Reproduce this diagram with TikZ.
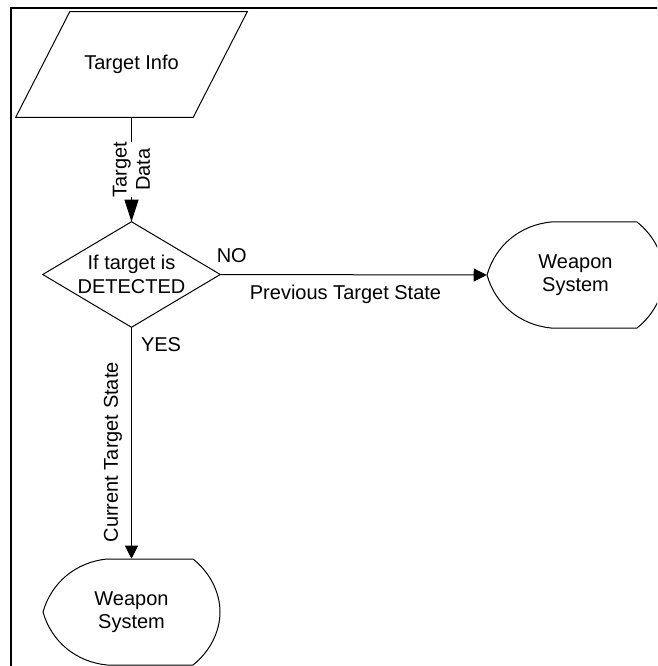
\documentclass[tikz,border=0pt]{standalone}
\usepackage{fontspec}
\setmainfont{Liberation Sans}
\usetikzlibrary{arrows.meta}
\begin{document}
\begin{tikzpicture}[x=0.75pt,y=-0.75pt,
  txt/.style={font=\fontsize{15}{17.5}\selectfont, align=center},
  holder/.style={txt, inner sep=0pt, draw=none},
  outline/.style={line width=0.75pt},
  flow/.style={line width=0.75pt, -{Triangle[length=9.75pt,width=9.75pt]}},
  longtip/.style={-{Triangle[length=16.5pt,width=10.5pt]}},
]
\useasboundingbox (0,0) rectangle (657,666);
\clip (0,0) rectangle (657,666);
% page frame
\draw[line width=1.7pt] (11.2,7.8) rectangle (700,700);

% shape holders (text + anchors)
\node[holder, minimum width=173.25pt, minimum height=78.75pt] (info) at (131.5,64.5) {Target Info};
\node[holder, minimum width=132.75pt, minimum height=78.75pt] (cond) at (131.5,274.5) {If target is\\DETECTED};
\node[holder, minimum width=132.75pt, minimum height=79.5pt] (ws2) at (575.5,275) {Weapon\\System};
\node[holder, minimum width=132.75pt, minimum height=79.5pt] (ws1) at (131.5,612) {Weapon\\System};

% outlines
\draw[outline] ([xshift=40.5pt]info.north west) -- (info.north east)
  -- ([xshift=-40.5pt]info.south east) -- (info.south west) -- cycle;
\draw[outline] (cond.north) -- (cond.east) -- (cond.south) -- (cond.west) -- cycle;
\foreach \n in {ws1,ws2}
  \draw[outline, shift={(\n.center)}] (-24.5,-53) -- (61.5,-53)
    .. controls (78,-40) and (88.5,-20) .. (88.5,0)
    .. controls (88.5,20) and (78,40) .. (61.5,53) -- (-24.5,53)
    .. controls (-55,50) and (-80,30) .. (-88.5,0)
    .. controls (-80,-30) and (-55,-50) .. (-24.5,-53) -- cycle;

% connectors
\draw[flow, longtip] (info.south) --
  node[txt, fill=white, rotate=90, inner sep=0pt] (tdlbl) {Target\\Data} (cond.north);
\draw[flow] (cond.east) --
  node[txt, pos=0, anchor=base west, inner sep=0pt, xshift=-3pt, yshift=9pt] (no) {NO}
  node[txt, pos=0.47, anchor=north, inner sep=0pt, yshift=-7.5pt] (prev) {Previous Target State}
  (ws2.west);
\draw[flow] (cond.south) --
  node[txt, pos=0, anchor=north west, inner sep=0pt, xshift=6.75pt, yshift=-7.5pt] (yes) {YES}
  node[txt, pos=0.54, rotate=90, anchor=south, inner sep=6.75pt] (cur) {Current Target State}
  (ws1.north);
\end{tikzpicture}
\end{document}
